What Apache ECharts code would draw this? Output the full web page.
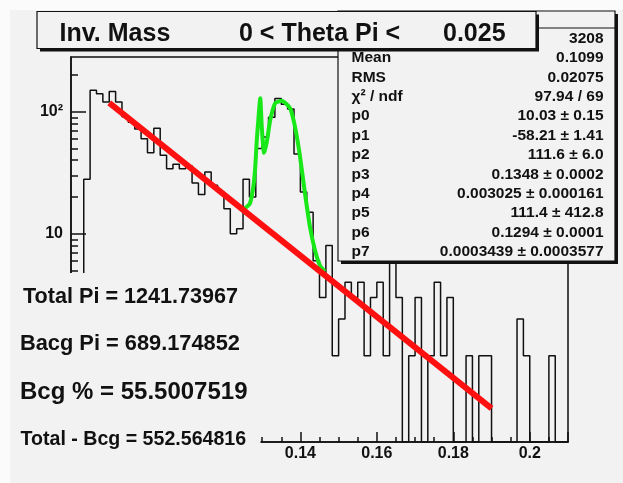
<!DOCTYPE html>
<html>
<head>
<meta charset="UTF-8">
<style>
  html, body { margin: 0; background: #f2f2f2; }
  #main { width: 623px; height: 483px; }
</style>
<script src="https://cdn.jsdelivr.net/npm/echarts@6/dist/echarts.min.js"></script>
</head>
<body>
<div id="main"></div>
<script>
// histogram, bins of 1/600 starting at 0.08
var binStart = 0.08;
var binWidth = 1 / 600;
var counts = [0, 0, 28, 150, 140, 120, 146, 120, 91, 82,
  72, 60, 46, 73, 44, 34, 37, 34, 36, 26,
  21, 32, 25, 22, 16, 10, 11, 28, 20, 50,
  62, 90, 128, 115, 105, 45, 22, 15, 6, 3,
  8, 1, 2, 4, 3, 4, 1, 3, 4, 1,
  7, 3, 0, 1, 3, 0, 1, 4, 1, 3,
  0, 0, 1, 0, 1, 1, 0, 0, 0, 0,
  2, 1, 0, 0, 0, 1, 0, 0];

// background fit (red) and peak fit (green)
var bgFit = [[0.09, 118], [0.19, 0.37]];
var peakFit = [[0.1255, 16.2], [0.1268, 17.7], [0.1277, 24.3], [0.1282, 35.4], [0.1286, 58.6],
  [0.1290, 85.5], [0.1295, 129], [0.1299, 75], [0.1305, 46], [0.1312, 56], [0.1321, 85],
  [0.1334, 117], [0.1351, 123], [0.1373, 107], [0.1386, 75], [0.1399, 43], [0.1412, 21.4],
  [0.1425, 11.4], [0.1438, 7.35], [0.1451, 5.5], [0.1464, 4.9]];

var yMajorTicks = [1, 10, 100];
var yLabels = [10, 100];
var yMinorTicks = [0.2, 0.3, 0.4, 0.5, 0.6, 0.7, 0.8, 0.9, 2, 3, 4, 5, 6, 7, 8, 9,
  20, 30, 40, 50, 60, 70, 80, 90, 200];

var titleParts = ['Inv. Mass', '0 < Theta Pi <', '0.025'];
var statLabels = ['Entries', 'Mean', 'RMS', 'χ² / ndf', 'p0', 'p1', 'p2', 'p3', 'p4', 'p5', 'p6', 'p7'];
var statValues = ['3208', '0.1099', '0.02075', '97.94 / 69', '10.03 ± 0.15', '-58.21 ± 1.41',
  '111.6 ± 6.0', '0.1348 ± 0.0002', '0.003025 ± 0.000161', '111.4 ± 412.8',
  '0.1294 ± 0.0001', '0.0003439 ± 0.0003577'];
var notes = ['Total Pi = 1241.73967', 'Bacg Pi = 689.174852', 'Bcg % = 55.5007519', 'Total - Bcg = 552.564816'];

var yMin = -0.707, yMax = 2.448;
function lg(v) { return v > 0 ? Math.log10(v) : yMin; }

var hist = counts.map(function (c, i) { return [binStart + i * binWidth, lg(c)]; });
hist.push([binStart + counts.length * binWidth, lg(counts[counts.length - 1])]);

var pad = '#f2f2f2';
var FONT = '"Liberation Sans", Arial, sans-serif';

function txt(x, y, s, size, align) {
  return {
    type: 'text', z: 110, x: x, y: y,
    style: {
      text: s, font: 'bold ' + size + 'px ' + FONT, fill: '#111',
      align: align || 'left', textAlign: align || 'left',
      verticalAlign: 'middle', textVerticalAlign: 'middle'
    }
  };
}
function box(x, y, w, h, z) {
  return [
    { type: 'rect', z: z, shape: { x: x + 3, y: y + 3, width: w, height: h }, style: { fill: '#111' } },
    { type: 'rect', z: z + 1, shape: { x: x, y: y, width: w, height: h }, style: { fill: pad, stroke: '#111', lineWidth: 1.2 } }
  ];
}

var gfx = [
  { type: 'rect', z: 100, shape: { x: 0, y: 0, width: 623, height: 10 }, style: { fill: '#fbfbfb' } },
  { type: 'rect', z: 100, shape: { x: 0, y: 0, width: 10, height: 483 }, style: { fill: '#fbfbfb' } },
  // text pane covering the lower left of the frame
  { type: 'rect', z: 100, shape: { x: 10, y: 273, width: 250.5, height: 210 }, style: { fill: pad } }
];
gfx.push(txt(23, 297, notes[0], 21.6));
gfx.push(txt(20, 344, notes[1], 21.8));
gfx.push(txt(20, 392, notes[2], 24));
gfx.push(txt(20.5, 440, notes[3], 19.6));

// stats box
gfx = gfx.concat(box(338, 11, 277, 250, 120));
gfx.push({ type: 'line', z: 122, shape: { x1: 338, y1: 28, x2: 615, y2: 28 }, style: { stroke: '#111', lineWidth: 1.2 } });
statLabels.forEach(function (s, i) {
  var t = txt(351.5, 38.5 + 19.4 * i, s, 15.5); t.z = 125; gfx.push(t);
  var v = txt(603.5, 38.5 + 19.4 * i, statValues[i], 15.5, 'right'); v.z = 125; gfx.push(v);
});

// title box
gfx = gfx.concat(box(37, 11.5, 499, 37, 130));
[59.6, 239, 443].forEach(function (x, i) {
  var t = txt(x, 34, titleParts[i], 25); t.z = 135; gfx.push(t);
});

var chart = echarts.init(document.getElementById('main'));
var axisFont = { fontSize: 16, fontWeight: 'bold', fontFamily: FONT, color: '#111' };
chart.setOption({
  animation: false,
  backgroundColor: pad,
  grid: { left: 71, top: 57, width: 497, height: 385, show: true, borderColor: '#111', borderWidth: 1.5, backgroundColor: 'transparent' },
  xAxis: {
    type: 'value', min: 0.08, max: 0.21, interval: 0.02, position: 'bottom', splitLine: { show: false },
    axisLine: { show: true, onZero: false, lineStyle: { color: '#111', width: 1.5 } },
    axisTick: { show: true, inside: true, length: 10, lineStyle: { color: '#111', width: 1.5 } },
    minorTick: { show: true, splitNumber: 4, length: 5, lineStyle: { color: '#111', width: 1.5 } },
    axisLabel: Object.assign({ margin: 4, showMaxLabel: false }, axisFont)
  },
  yAxis: [
    {
      type: 'value', min: yMin, max: yMax, position: 'left', splitLine: { show: false },
      axisLine: { show: true, onZero: false, lineStyle: { color: '#111', width: 1.5 } },
      axisTick: { show: true, inside: true, length: 15, customValues: yMajorTicks.map(Math.log10), lineStyle: { color: '#111', width: 1.5 } },
      axisLabel: Object.assign({
        customValues: yLabels.map(Math.log10), margin: 8,
        formatter: function (v) { return Math.round(v) === 2 ? '10²' : '10'; }
      }, axisFont)
    },
    {
      type: 'value', min: yMin, max: yMax, position: 'left', splitLine: { show: false },
      axisLine: { show: false, onZero: false },
      axisTick: { show: true, inside: true, length: 7, customValues: yMinorTicks.map(Math.log10), lineStyle: { color: '#111', width: 1.5 } },
      axisLabel: { show: false }
    }
  ],
  series: [
    {
      type: 'line', step: 'end', data: hist, symbol: 'none', z: 3,
      lineStyle: { color: '#111', width: 1.5 }
    },
    {
      type: 'line', data: peakFit.map(function (p) { return [p[0], lg(p[1])]; }), symbol: 'none', z: 4,
      smooth: 0.2, lineStyle: { color: '#18e818', width: 4 }
    },
    {
      type: 'line', data: bgFit.map(function (p) { return [p[0], lg(p[1])]; }), symbol: 'none', z: 5,
      lineStyle: { color: '#ff1010', width: 6 }
    }
  ],
  graphic: { elements: gfx }
});
</script>
</body>
</html>
